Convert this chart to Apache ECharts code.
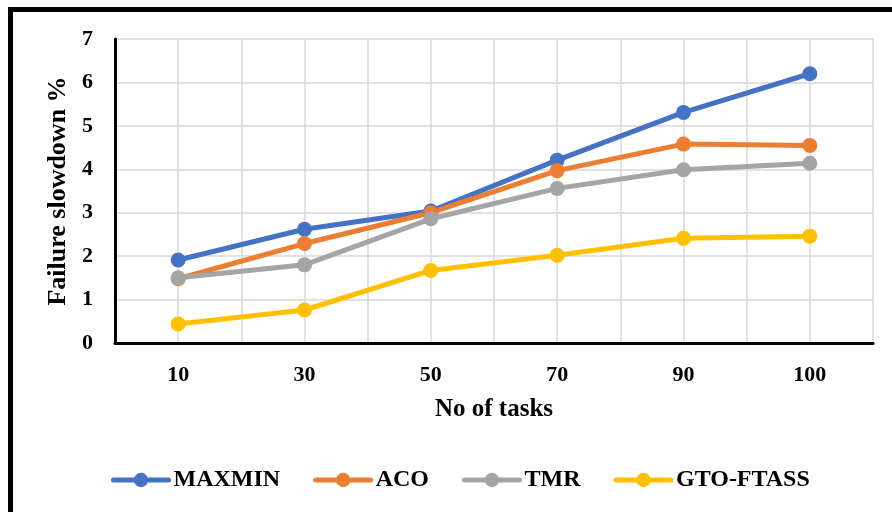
<!DOCTYPE html>
<html>
<head>
<meta charset="utf-8">
<script src="https://cdn.jsdelivr.net/npm/echarts@6/dist/echarts.min.js"></script>
<style>
html,body{margin:0;padding:0;background:#fff;}
#chart{width:892px;height:512px;}
</style>
</head>
<body>
<div id="chart"></div>
<script>
const categories = ['10', '30', '50', '70', '90', '100'];
const maxmin = [1.91, 2.62, 3.04, 4.21, 5.31, 6.2];
const aco = [1.48, 2.29, 3.0, 3.97, 4.58, 4.55];
const tmr = [1.5, 1.8, 2.86, 3.56, 3.99, 4.14];
const gto = [0.44, 0.76, 1.67, 2.02, 2.41, 2.46];
const seriesNames = ['MAXMIN', 'ACO', 'TMR', 'GTO-FTASS'];
const colors = ['#4472C4', '#ED7D31', '#A5A5A5', '#FFC000'];

const FONT = '"Liberation Serif", "Times New Roman", serif';
const chart = echarts.init(document.getElementById('chart'), null, {renderer: 'canvas'});

function mkSeries(name, data, color) {
  return {
    name: name, type: 'line', data: data,
    xAxisIndex: 0, yAxisIndex: 0,
    symbol: 'circle', symbolSize: 15,
    lineStyle: {width: 5, color: color, cap: 'round', join: 'round'},
    itemStyle: {color: color},
    emphasis: {disabled: true},
    animation: false,
    z: 5
  };
}

chart.setOption({
  animation: false,
  backgroundColor: '#fff',
  color: colors,
  graphic: [{
    type: 'rect', silent: true,
    shape: {x: 10.5, y: 9.5, width: 1000, height: 1000},
    style: {fill: 'none', stroke: '#000', lineWidth: 5}
  }],
  grid: {left: 115, right: 19, top: 39, bottom: 169, containLabel: false},
  legend: {
    left: 106, top: 463,
    itemWidth: 55, itemHeight: 18, itemGap: 33,
    data: seriesNames,
    lineStyle: {width: 5, cap: 'round'},
    textStyle: {fontFamily: FONT, fontWeight: 'bold', fontSize: 24, color: '#000'}
  },
  xAxis: [{
    type: 'category', data: categories, boundaryGap: true,
    name: 'No of tasks', nameLocation: 'middle', nameGap: 54,
    nameTextStyle: {fontFamily: FONT, fontWeight: 'bold', fontSize: 25, color: '#000'},
    axisLine: {show: true, lineStyle: {color: '#000', width: 3}},
    axisTick: {show: false},
    axisLabel: {fontFamily: FONT, fontWeight: 'bold', fontSize: 22, color: '#000', margin: 21},
    splitLine: {show: false},
    z: 3
  }, {
    type: 'value', min: 0, max: 12, interval: 1, position: 'bottom',
    axisLine: {show: false}, axisTick: {show: false}, axisLabel: {show: false},
    splitLine: {show: true, lineStyle: {color: '#d9d9d9', width: 1.5}}
  }],
  yAxis: {
    type: 'value', min: 0, max: 7, interval: 1,
    name: 'Failure slowdown %', nameLocation: 'middle', nameGap: 42, nameRotate: 90,
    nameTextStyle: {fontFamily: FONT, fontWeight: 'bold', fontSize: 26, color: '#000'},
    axisLine: {show: true, lineStyle: {color: '#000', width: 3}},
    axisTick: {show: false},
    axisLabel: {fontFamily: FONT, fontWeight: 'bold', fontSize: 22, color: '#000', margin: 22},
    splitLine: {show: true, lineStyle: {color: '#d9d9d9', width: 1.5}},
    z: 3
  },
  series: [
    mkSeries(seriesNames[0], maxmin, colors[0]),
    mkSeries(seriesNames[1], aco, colors[1]),
    mkSeries(seriesNames[2], tmr, colors[2]),
    mkSeries(seriesNames[3], gto, colors[3])
  ]
});
</script>
</body>
</html>
